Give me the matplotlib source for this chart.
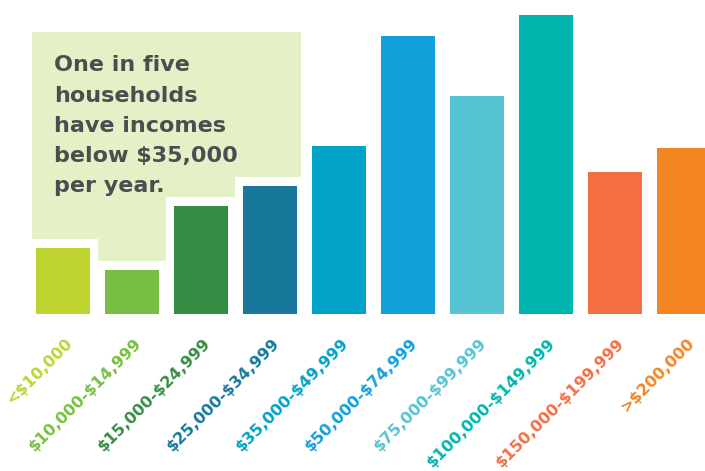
import matplotlib
matplotlib.use("Agg")
from matplotlib import pyplot as plt
from matplotlib.patches import Polygon

plt.rcParams["text.parse_math"] = False

# share of households by income bracket (%)
brackets = ["<$10,000", "$10,000-$14,999", "$15,000-$24,999", "$25,000-$34,999",
            "$35,000-$49,999", "$50,000-$74,999", "$75,000-$99,999",
            "$100,000-$149,999", "$150,000-$199,999", ">$200,000"]
share = [4.1, 2.7, 6.7, 7.9, 10.4, 17.2, 13.5, 18.5, 8.8, 10.3]
colors = ["#BFD430", "#78BE43", "#358D44", "#17789B", "#00A2C8",
          "#119FDA", "#56C4D2", "#00B5AD", "#F36F43", "#F48523"]

callout = "One in five\nhouseholds\nhave incomes\nbelow $35,000\nper year."

fig = plt.figure(figsize=(7.05, 4.71), dpi=100)
ax = fig.add_axes([0, 0, 1, 1])
ax.set_xlim(-0.913, 9.304)
ax.set_ylim(-9.72, 19.43)
ax.axis("off")

x = list(range(len(share)))

# stepped callout box hugging the first four bars
gap = 0.55
top = 17.45
verts = [(-0.45, top)]
edges = [-0.45, 0.5, 1.49, 2.49, 3.45]
for i in range(4):
    verts.append((edges[i], share[i] + gap))
    verts.append((edges[i + 1], share[i] + gap))
verts.append((3.45, top))
ax.add_patch(Polygon(verts, closed=True, facecolor="#E4F0C6", edgecolor="none", zorder=1))

ax.text(-0.13, 16.0, callout, fontsize=16, fontweight="bold", color="#4D4D4F",
        family=["DejaVu Sans"], va="top", ha="left", linespacing=1.64, zorder=3)

ax.bar(x, share, width=0.78, color=colors, zorder=2)

for i, lab in enumerate(brackets):
    ax.text(i + 0.03, -1.35, lab, rotation=45, rotation_mode="anchor",
            ha="right", va="top", fontsize=11.5, fontweight="bold",
            color=colors[i], family=["DejaVu Sans"])

fig.savefig("out.png", dpi=100)
